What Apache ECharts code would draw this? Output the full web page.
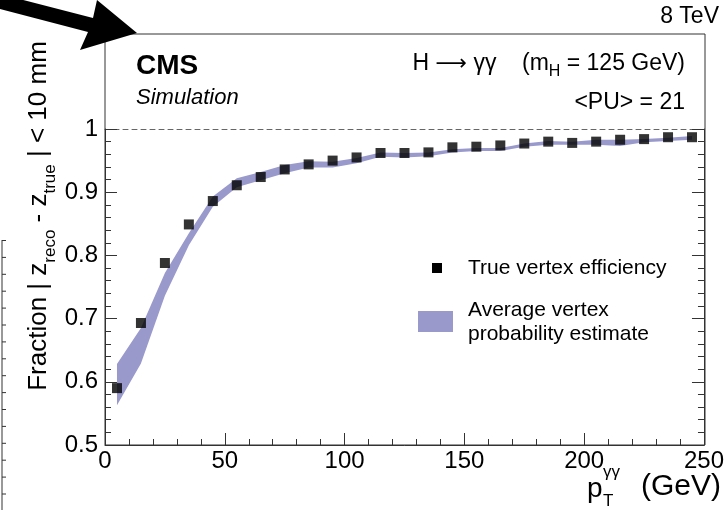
<!DOCTYPE html>
<html>
<head>
<meta charset="utf-8">
<script src="https://cdn.jsdelivr.net/npm/echarts@6/dist/echarts.min.js"></script>
<style>
  html, body { margin: 0; padding: 0; background: #fff; }
  #chart { width: 727px; height: 510px; }
</style>
</head>
<body>
<div id="chart"></div>
<script>
// Diphoton pT bin centres (GeV)
const ptBins = [5, 15, 25, 35, 45, 55, 65, 75, 85, 95, 105, 115, 125,
                135, 145, 155, 165, 175, 185, 195, 205, 215, 225, 235, 245];

// Fraction of events with |z_reco - z_true| < 10 mm (true vertex efficiency)
const trueEff = [0.590, 0.693, 0.788, 0.849, 0.886, 0.911, 0.924, 0.936, 0.944,
                 0.950, 0.955, 0.962, 0.962, 0.963, 0.971, 0.972, 0.974, 0.977,
                 0.980, 0.978, 0.980, 0.983, 0.984, 0.987, 0.987];

// Average vertex probability estimate: lower / upper edge of the band
const bandLow  = [0.563, 0.629, 0.736, 0.816, 0.877, 0.908, 0.919, 0.930, 0.939,
                  0.939, 0.946, 0.956, 0.955, 0.957, 0.963, 0.965, 0.965, 0.972,
                  0.975, 0.975, 0.975, 0.973, 0.979, 0.981, 0.983];
const bandHigh = [0.628, 0.685, 0.772, 0.835, 0.893, 0.922, 0.932, 0.943, 0.949,
                  0.948, 0.954, 0.963, 0.962, 0.963, 0.968, 0.970, 0.970, 0.977,
                  0.981, 0.980, 0.983, 0.983, 0.984, 0.986, 0.989];

const FONT = '"Liberation Sans", Arial, Helvetica, sans-serif';
const FRAME = '#333';
const BAND = '#9999cc';

const chart = echarts.init(document.getElementById('chart'), null, { renderer: 'canvas' });

// Small ticks along the left edge (neighbouring panel's axis)
const edgeTicks = [];
for (let k = 0; k < 16; k++) {
  edgeTicks.push({
    type: 'line', silent: true,
    shape: { x1: 2, y1: 240.5 + k * 16.9, x2: 6, y2: 240.5 + k * 16.9 },
    style: { stroke: '#333', lineWidth: 1 }
  });
}

const option = {
  animation: false,
  backgroundColor: '#fff',
  grid: { left: 105, right: 22, top: 129, bottom: 65, containLabel: false },
  xAxis: [
    {
      type: 'value', min: 0, max: 250, interval: 50, position: 'bottom',
      axisLine: { show: true, onZero: false, lineStyle: { color: FRAME, width: 1 } },
      axisTick: { show: true, inside: true, length: 12, lineStyle: { color: FRAME } },
      minorTick: { show: true, splitNumber: 5, length: 6, lineStyle: { color: FRAME } },
      axisLabel: { fontSize: 24, color: '#000', fontFamily: FONT, margin: 4 },
      splitLine: { show: false }
    },
    {
      // dashed reference line at efficiency = 1
      type: 'value', min: 0, max: 250, position: 'top',
      axisLine: { show: true, onZero: false, lineStyle: { color: '#666', width: 1, type: [5, 4] } },
      axisTick: { show: false }, axisLabel: { show: false }, splitLine: { show: false }
    }
  ],
  yAxis: [
    {
      type: 'value', min: 0.5, max: 1, interval: 0.1, position: 'left',
      axisLine: { show: true, onZero: false, lineStyle: { color: FRAME, width: 1 } },
      axisTick: { show: true, inside: true, length: 12, lineStyle: { color: FRAME } },
      minorTick: { show: true, splitNumber: 5, length: 6, lineStyle: { color: FRAME } },
      axisLabel: { fontSize: 24, color: '#000', fontFamily: FONT, margin: 7 },
      splitLine: { show: false }
    },
    {
      type: 'value', min: 0.5, max: 1, interval: 0.1, position: 'right',
      axisLine: { show: true, onZero: false, lineStyle: { color: FRAME, width: 1 } },
      axisTick: { show: true, inside: true, length: 12, lineStyle: { color: FRAME } },
      minorTick: { show: true, splitNumber: 5, length: 6, lineStyle: { color: FRAME } },
      axisLabel: { show: false },
      splitLine: { show: false }
    }
  ],
  series: [
    {
      name: 'Average vertex probability estimate',
      type: 'custom',
      xAxisIndex: 0, yAxisIndex: 0,
      data: ptBins.map((x, i) => [x, bandLow[i], bandHigh[i]]),
      encode: { x: 0, y: [1, 2] },
      clip: false,
      z: 2,
      renderItem: function (params, api) {
        if (params.dataIndex !== 0) return null;
        const pts = [];
        for (let i = 0; i < ptBins.length; i++) pts.push(api.coord([ptBins[i], bandHigh[i]]));
        for (let i = ptBins.length - 1; i >= 0; i--) pts.push(api.coord([ptBins[i], bandLow[i]]));
        return { type: 'polygon', shape: { points: pts }, style: { fill: BAND, stroke: null } };
      }
    },
    {
      name: 'True vertex efficiency',
      type: 'scatter',
      xAxisIndex: 0, yAxisIndex: 0,
      data: ptBins.map((x, i) => [x, trueEff[i]]),
      symbol: 'rect', symbolSize: 10,
      itemStyle: { color: '#000' },
      clip: false,
      z: 5
    }
  ],
  graphic: [
    // frame continuing above the data area
    {
      type: 'rect', silent: true, z: 10,
      shape: { x: 105, y: 34, width: 600, height: 411 },
      style: { fill: null, stroke: FRAME, lineWidth: 1 }
    },
    // pointer arrow at the top-left corner
    {
      type: 'polygon', silent: true, z: 20,
      shape: { points: [[0, -6], [93, 18], [97, 0], [137, 33], [80, 50], [88, 32], [0, 9]] },
      style: { fill: '#000' }
    },
    // partial axis at the left edge
    {
      type: 'line', silent: true,
      shape: { x1: 2, y1: 240, x2: 2, y2: 510 },
      style: { stroke: '#333', lineWidth: 1 }
    },
    ...edgeTicks,
    {
      type: 'text', silent: true, x: 719, y: 17,
      style: { text: '8 TeV', font: '23px ' + FONT, fill: '#000', textAlign: 'right', textVerticalAlign: 'middle' }
    },
    {
      type: 'text', silent: true, x: 136, y: 66,
      style: { text: 'CMS', font: 'bold 28px ' + FONT, fill: '#000', textAlign: 'left', textVerticalAlign: 'middle' }
    },
    {
      type: 'text', silent: true, x: 136, y: 98,
      style: { text: 'Simulation', font: 'italic 22px ' + FONT, fill: '#000', textAlign: 'left', textVerticalAlign: 'middle' }
    },
    {
      type: 'text', silent: true, x: 685, y: 64,
      style: {
        text: '{n|H }{a|\u27f6}{n| \u03b3\u03b3    (m}{s|H}{n| = 125 GeV)}',
        textAlign: 'right', textVerticalAlign: 'middle',
        rich: {
          n: { font: '23px ' + FONT, fill: '#000', lineHeight: 32 },
          a: { font: '22px "DejaVu Sans", ' + FONT, fill: '#000', lineHeight: 32 },
          s: { font: '16px ' + FONT, fill: '#000', lineHeight: 16, verticalAlign: 'bottom' }
        }
      }
    },
    {
      type: 'text', silent: true, x: 685, y: 103,
      style: { text: '<PU> = 21', font: '23px ' + FONT, fill: '#000', textAlign: 'right', textVerticalAlign: 'middle' }
    },
    // legend
    {
      type: 'rect', silent: true,
      shape: { x: 432, y: 263, width: 10, height: 10 },
      style: { fill: '#000' }
    },
    {
      type: 'text', silent: true, x: 468, y: 268,
      style: { text: 'True vertex efficiency', font: '21px ' + FONT, fill: '#000', textAlign: 'left', textVerticalAlign: 'middle' }
    },
    {
      type: 'rect', silent: true,
      shape: { x: 418, y: 311, width: 35, height: 21 },
      style: { fill: BAND }
    },
    {
      type: 'text', silent: true, x: 468, y: 310,
      style: { text: 'Average vertex', font: '21px ' + FONT, fill: '#000', textAlign: 'left', textVerticalAlign: 'middle' }
    },
    {
      type: 'text', silent: true, x: 468, y: 334,
      style: { text: 'probability estimate', font: '21px ' + FONT, fill: '#000', textAlign: 'left', textVerticalAlign: 'middle' }
    },
    // y-axis title
    {
      type: 'text', silent: true, x: 39, y: 216, rotation: Math.PI / 2,
      style: {
        text: '{n|Fraction | z}{s|reco}{n| - z}{s|true}{n| | < 10 mm}',
        textAlign: 'center', textVerticalAlign: 'middle',
        rich: {
          n: { font: '26px ' + FONT, fill: '#000', lineHeight: 40 },
          s: { font: '17px ' + FONT, fill: '#000', lineHeight: 17, verticalAlign: 'bottom' }
        }
      }
    },
    // x-axis title
    {
      type: 'text', silent: true, x: 587, y: 489,
      style: { text: 'p', font: '28px ' + FONT, fill: '#000', textAlign: 'left', textVerticalAlign: 'middle' }
    },
    {
      type: 'text', silent: true, x: 603, y: 501,
      style: { text: 'T', font: '17px ' + FONT, fill: '#000', textAlign: 'left', textVerticalAlign: 'middle' }
    },
    {
      type: 'text', silent: true, x: 603, y: 472,
      style: { text: '\u03b3\u03b3', font: '17px ' + FONT, fill: '#000', textAlign: 'left', textVerticalAlign: 'middle' }
    },
    {
      type: 'text', silent: true, x: 721, y: 487,
      style: { text: '(GeV)', font: '30px ' + FONT, fill: '#000', textAlign: 'right', textVerticalAlign: 'middle' }
    }
  ]
};

chart.setOption(option);
</script>
</body>
</html>
